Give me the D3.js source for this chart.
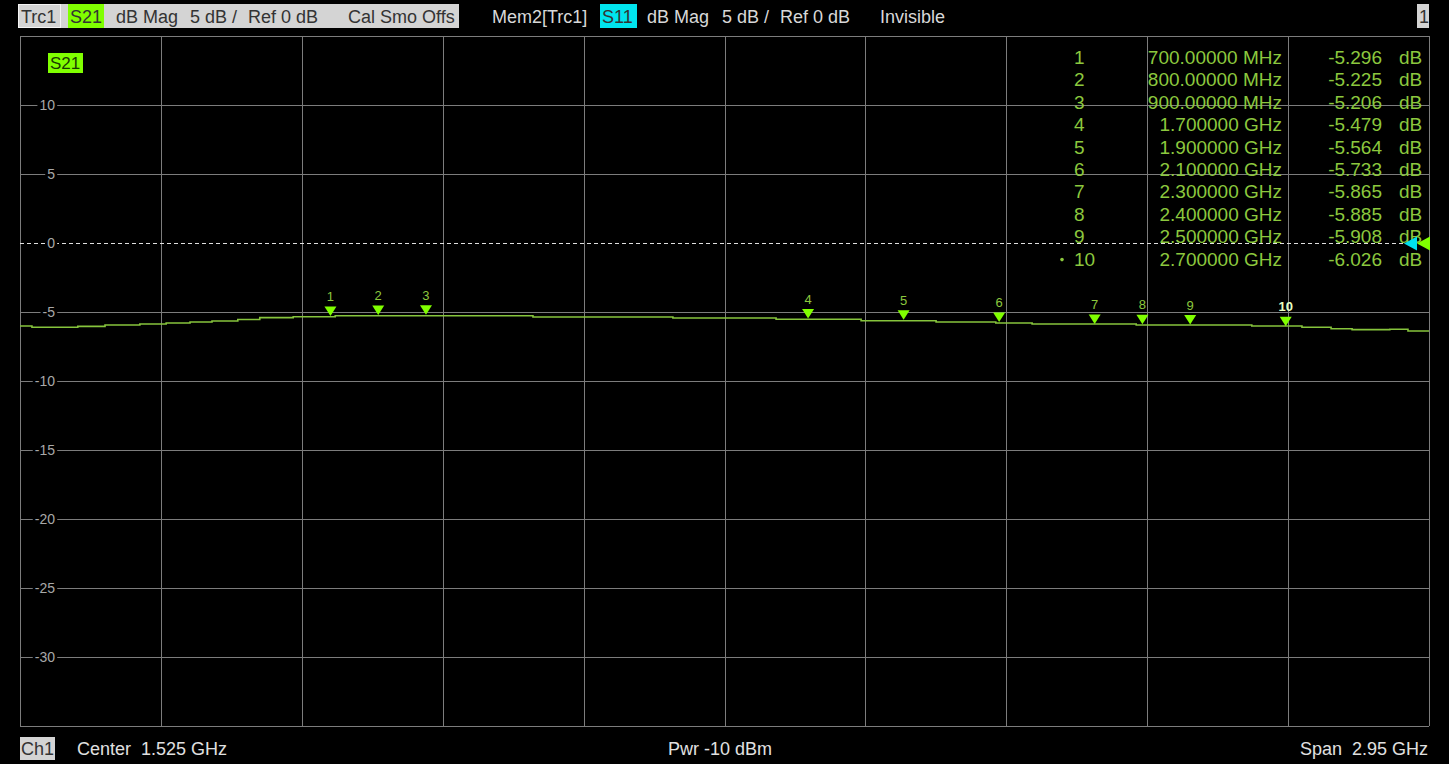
<!DOCTYPE html>
<html>
<head>
<meta charset="utf-8">
<script src="https://cdn.jsdelivr.net/npm/d3@7"></script>
<style>
  html, body { margin: 0; padding: 0; background: #000; }
  svg { display: block; font-family: "Liberation Sans", Arial, sans-serif; }
  text { white-space: pre; }
</style>
</head>
<body>
<svg id="chart"></svg>
<script>
// sweep settings
const centerGHz = 1.525
const spanGHz = 2.95

// S21 trace (GHz / dB), drawn as steps
const traceFreq = [0.05, 0.075, 0.171, 0.228, 0.301, 0.356, 0.406, 0.452, 0.506, 0.552, 0.622, 0.710,
    1.124, 1.417, 1.633, 1.811, 1.968, 2.093, 2.169, 2.387, 2.629, 2.734, 2.795, 2.839, 2.918, 2.956, 3.0]
const traceDB = [-6.01, -6.11, -6.04, -5.94, -5.87, -5.80, -5.72, -5.65, -5.54, -5.41, -5.34, -5.27,
    -5.36, -5.43, -5.53, -5.63, -5.72, -5.80, -5.87, -5.94, -6.01, -6.11, -6.21, -6.28, -6.25, -6.38, -6.38]

// markers
const markerNo = [1, 2, 3, 4, 5, 6, 7, 8, 9, 10]
const markerFreq = [0.7, 0.8, 0.9, 1.7, 1.9, 2.1, 2.3, 2.4, 2.5, 2.7]
const markerDB = [-5.296, -5.225, -5.206, -5.479, -5.564, -5.733, -5.865, -5.885, -5.908, -6.026]
const markerFreqLabel = ["700.00000 MHz", "800.00000 MHz", "900.00000 MHz", "1.700000 GHz", "1.900000 GHz",
    "2.100000 GHz", "2.300000 GHz", "2.400000 GHz", "2.500000 GHz", "2.700000 GHz"]
const activeMarker = 10

// y axis
const yTicks = [10, 5, 0, -5, -10, -15, -20, -25, -30]
const yMin = -35, yMax = 15, refLevel = 0

const width = 1449, height = 764
const plot = { left: 20, right: 1429, top: 36, bottom: 726 }
const gridColor = "#7c7c7c", traceColor = "#86c43c", markerColor = "#80ff00", textGreen = "#8cc83e"

const svg = d3.select("#chart").attr("width", width).attr("height", height)
svg.append("rect").attr("width", width).attr("height", height).attr("fill", "#000")

const start = centerGHz - spanGHz / 2, stop = centerGHz + spanGHz / 2
const x = d3.scaleLinear().domain([start, stop]).range([plot.left, plot.right])
const y = d3.scaleLinear().domain([yMin, yMax]).range([plot.bottom, plot.top])

// grid
const g = svg.append("g")
const xDivs = d3.range(0, 11).map(i => start + i * spanGHz / 10)
g.selectAll(".vgrid").data(xDivs).join("line")
    .attr("x1", d => Math.round(x(d)) + 0.5).attr("x2", d => Math.round(x(d)) + 0.5)
    .attr("y1", plot.top).attr("y2", plot.bottom)
    .attr("stroke", gridColor)
const yDivs = d3.range(yMin, yMax + 1, 5)
g.selectAll(".hgrid").data(yDivs).join("line")
    .attr("x1", plot.left).attr("x2", plot.right)
    .attr("y1", d => Math.round(y(d)) + 0.5).attr("y2", d => Math.round(y(d)) + 0.5)
    .attr("stroke", d => d === refLevel ? "#e0e0e0" : gridColor)
    .attr("stroke-dasharray", d => d === refLevel ? "4,3" : null)

// y tick labels sitting on the grid lines
const yl = g.selectAll(".ylab").data(yTicks).join("g")
yl.each(function (d) {
    const sel = d3.select(this)
    const bg = sel.append("rect").attr("fill", "#000")
    const t = sel.append("text")
        .attr("x", 55).attr("y", y(d) + 5)
        .attr("text-anchor", "end")
        .attr("font-size", 14)
        .attr("fill", "#a8a8a8")
        .text(d)
    const b = t.node().getBBox()
    bg.attr("x", b.x - 2).attr("y", b.y + 2).attr("width", b.width + 4).attr("height", b.height - 4)
})

// trace
const line = d3.line().x(d => x(d[0])).y(d => y(d[1])).curve(d3.curveStepAfter)
svg.append("path")
    .datum(d3.zip(traceFreq, traceDB))
    .attr("d", line)
    .attr("fill", "none").attr("stroke", traceColor).attr("stroke-width", 1.6)

// marker triangles and numbers
const mk = svg.append("g").selectAll("g").data(markerNo).join("g")
mk.append("path")
    .attr("d", (d, i) => {
        const px = x(markerFreq[i]), py = y(markerDB[i])
        return `M${px},${py} L${px - 6},${py - 9.5} L${px + 6},${py - 9.5} Z`
    })
    .attr("fill", markerColor)
mk.append("text")
    .attr("x", (d, i) => x(markerFreq[i]))
    .attr("y", (d, i) => y(markerDB[i]) - 15)
    .attr("text-anchor", "middle")
    .attr("font-size", 13)
    .attr("font-weight", d => d === activeMarker ? "bold" : null)
    .attr("fill", d => d === activeMarker ? "#e8ffc0" : textGreen)
    .text(d => d)

// marker table
const rowY = i => 64 + i * 22.4
const tb = svg.append("g").attr("font-size", 19).attr("fill", textGreen)
tb.selectAll(".no").data(markerNo).join("text")
    .attr("x", 1074).attr("y", (d, i) => rowY(i)).text(d => d)
tb.append("circle").attr("cx", 1062).attr("cy", rowY(markerNo.indexOf(activeMarker)) - 6).attr("r", 1.8)
tb.selectAll(".fq").data(markerFreqLabel).join("text")
    .attr("x", 1282).attr("y", (d, i) => rowY(i)).attr("text-anchor", "end").text(d => d)
tb.selectAll(".db").data(markerDB).join("text")
    .attr("x", 1382).attr("y", (d, i) => rowY(i)).attr("text-anchor", "end").text(d => d.toFixed(3))
tb.selectAll(".unit").data(markerDB).join("text")
    .attr("x", 1399).attr("y", (d, i) => rowY(i)).text("dB")

// reference level arrows on the right edge
const ry = Math.round(y(refLevel)) + 0.5
svg.append("path").attr("d", `M${plot.right - 25},${ry} L${plot.right - 12},${ry - 7} L${plot.right - 12},${ry + 7} Z`).attr("fill", "#00e0ee")
svg.append("path").attr("d", `M${plot.right - 12},${ry} L${plot.right + 1},${ry - 7} L${plot.right + 1},${ry + 7} Z`).attr("fill", markerColor)

// trace name tag inside the plot
svg.append("rect").attr("x", 48).attr("y", 53).attr("width", 35).attr("height", 20).attr("fill", markerColor)
svg.append("text").attr("x", 50).attr("y", 69).attr("font-size", 17).attr("fill", "#1a3a00").text("S21")

// header line
const hdr = svg.append("g").attr("font-size", 18)
hdr.append("rect").attr("x", 18).attr("y", 4).attr("width", 441).attr("height", 24).attr("fill", "#d4d4d4")
hdr.append("rect").attr("x", 18.5).attr("y", 4.5).attr("width", 42).attr("height", 23).attr("fill", "none").attr("stroke", "#f4f4f4")
hdr.append("rect").attr("x", 68).attr("y", 4).attr("width", 36).attr("height", 24).attr("fill", markerColor)
hdr.append("rect").attr("x", 600).attr("y", 4).attr("width", 37).attr("height", 24).attr("fill", "#00e5ee")
hdr.append("rect").attr("x", 1417).attr("y", 4).attr("width", 12).attr("height", 24).attr("fill", "#d4d4d4")
const hdrText = [
    [21, "Trc1", "#333"], [70, "S21", "#333"], [116, "dB Mag", "#333"], [190, "5 dB /", "#333"],
    [248, "Ref 0 dB", "#333"], [348, "Cal Smo Offs", "#333"],
    [492, "Mem2[Trc1]", "#d8d8d8"], [602, "S11", "#333"], [647, "dB Mag", "#d8d8d8"], [722, "5 dB /", "#d8d8d8"],
    [780, "Ref 0 dB", "#d8d8d8"], [880, "Invisible", "#d8d8d8"], [1419, "1", "#333"]
]
hdr.selectAll(".h").data(hdrText).join("text")
    .attr("x", d => d[0]).attr("y", 23).attr("fill", d => d[2]).text(d => d[1])

// footer line
const ftr = svg.append("g").attr("font-size", 18).attr("fill", "#e0e0e0")
ftr.append("rect").attr("x", 20).attr("y", 737).attr("width", 35).attr("height", 23).attr("fill", "#d4d4d4")
ftr.append("text").attr("x", 21).attr("y", 755).attr("fill", "#333").text("Ch1")
ftr.append("text").attr("x", 77).attr("y", 755).text("Center  1.525 GHz")
ftr.append("text").attr("x", 668).attr("y", 755).text("Pwr -10 dBm")
ftr.append("text").attr("x", 1428).attr("y", 755).attr("text-anchor", "end").text("Span  2.95 GHz")
</script>
</body>
</html>
